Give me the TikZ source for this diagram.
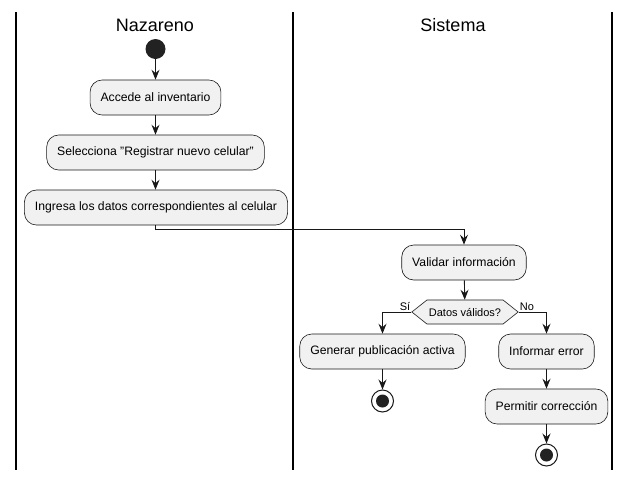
\documentclass[tikz,border=0pt]{standalone}
\usepackage{fontspec}
\setmainfont{Liberation Sans}
\usetikzlibrary{arrows.meta,shapes.symbols}
\definecolor{boxfill}{HTML}{F1F1F1}
\definecolor{boxline}{HTML}{181818}
\definecolor{dot}{HTML}{222222}
\tikzset{
    actbox/.style={draw=boxline, fill=boxfill, line width=0.6pt, rounded corners=12pt,
        minimum height=35pt, inner xsep=10.5pt, font=\fontsize{12.2}{14}\selectfont},
    decide/.style={signal, signal to=east and west, signal pointer angle=77, draw=boxline,
        fill=boxfill, line width=0.6pt, minimum height=24pt, inner xsep=2pt,
        font=\fontsize{11}{13}\selectfont},
    startdot/.style={circle, fill=dot, minimum size=20pt, inner sep=0pt},
    enddot/.style={circle, draw=boxline, line width=1pt, fill=white, minimum size=22pt, inner sep=0pt,
        path picture={\fill[dot] (path picture bounding box.center) circle (6.5pt);}},
    flow/.style={line width=0.9pt, draw=boxline, -{Stealth[length=10pt, width=8pt, inset=3.5pt]}},
    lane/.style={line width=1.4pt, black},
    small/.style={font=\fontsize{11}{13}\selectfont, inner sep=1pt}
}
\begin{document}
\begin{tikzpicture}[x=1pt, y=-1pt]
    \useasboundingbox (0, 0) rectangle (630, 483);
    % carriles
    \draw[lane] (16, 12) -- (16, 470);
    \draw[lane] (293, 12) -- (293, 470);
    \draw[lane] (612, 12) -- (612, 470);
    \node[font=\fontsize{18}{20}\selectfont] (nazareno) at (155, 25) {Nazareno};
    \node[font=\fontsize{18}{20}\selectfont] (sistema) at (453, 25) {Sistema};
    % Nazareno
    \node[startdot] (inicio) at (155.5, 49) {};
    \node[actbox] (accede) at (155.5, 97.5) {Accede al inventario};
    \node[actbox] (selecciona) at (155.5, 152.5) {Selecciona \symbol{34}Registrar nuevo celular\symbol{34}};
    \node[actbox] (ingresa) at (156, 207.5) {Ingresa los datos correspondientes al celular};
    % Sistema
    \node[actbox] (validar) at (464, 262.5) {Validar información};
    \node[decide] (datos) at (465, 312) {Datos válidos?};
    \node[actbox] (generar) at (382.5, 351.5) {Generar publicación activa};
    \node[enddot] (fin1) at (382.5, 401) {};
    \node[actbox] (informar) at (546.5, 351.5) {Informar error};
    \node[actbox] (permitir) at (546.5, 406.5) {Permitir corrección};
    \node[enddot] (fin2) at (546.5, 455) {};
    % flujo
    \draw[flow] (inicio) -- (accede);
    \draw[flow] (accede) -- (selecciona);
    \draw[flow] (selecciona) -- (selecciona |- ingresa.north);
    \draw[flow] (selecciona |- ingresa.south) -- ++(0, 4.5) -| (validar.north);
    \draw[flow] (validar) -- (datos);
    \draw[flow] (datos.west) -| (generar.north);
    \draw[flow] (datos.east) -| (informar.north);
    \node[small, anchor=south east] (si) at (datos.west) {Sí};
    \node[small, anchor=south west] (no) at (datos.east) {No};
    \draw[flow] (generar) -- (fin1);
    \draw[flow] (informar) -- (permitir);
    \draw[flow] (permitir) -- (fin2);
\end{tikzpicture}
\end{document}
